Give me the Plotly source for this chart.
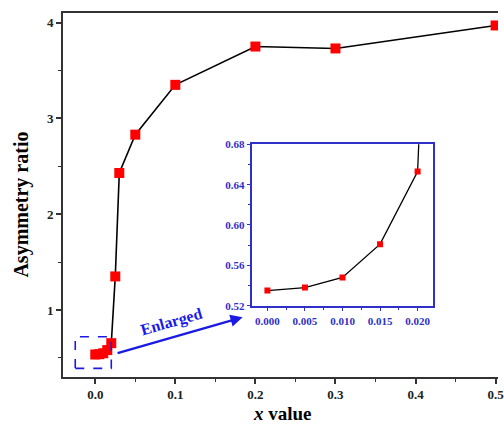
import plotly.graph_objects as go

# ---- data ----
x_vals = [0.0, 0.005, 0.010, 0.015, 0.020, 0.025, 0.03, 0.05, 0.1, 0.2, 0.3, 0.5]
ratio = [0.535, 0.538, 0.548, 0.581, 0.653, 1.35, 2.43, 2.83, 3.35, 3.75, 3.73, 3.97]

main_xticks = [0.0, 0.1, 0.2, 0.3, 0.4, 0.5]
main_yticks = [1, 2, 3, 4]
inset_xticks = [0.000, 0.005, 0.010, 0.015, 0.020]
inset_yticks = [0.52, 0.56, 0.60, 0.64, 0.68]

FONT = "Liberation Serif"
BLUE_AX = "#3030c8"
BLUE_AR = "#1a1ae6"
AXC = "#333333"

fig = go.Figure()
fig.add_trace(go.Scatter(
    x=x_vals, y=ratio, mode="lines+markers",
    line=dict(color="black", width=1.6),
    marker=dict(symbol="square", size=10, color="#ff0000", line=dict(width=0)),
    xaxis="x", yaxis="y", showlegend=False))
fig.add_trace(go.Scatter(
    x=x_vals, y=ratio, mode="lines+markers",
    line=dict(color="black", width=1.3),
    marker=dict(symbol="square", size=6, color="#ff0000", line=dict(width=0)),
    xaxis="x2", yaxis="y2", showlegend=False))

fig.update_layout(
    width=504, height=425,
    margin=dict(l=63, r=0, t=13, b=48),
    paper_bgcolor="white", plot_bgcolor="white",
    font=dict(family=FONT, color="black"),
    xaxis=dict(
        range=[-0.0403, 0.503], tickvals=main_xticks, tickformat=".1f",
        showgrid=False, zeroline=False, showline=True, linecolor=AXC, linewidth=1.6,
        mirror=True, ticks="outside", ticklen=5, tickwidth=1.6, tickcolor=AXC,
        minor=dict(ticks="outside", ticklen=3, tickwidth=1.4, tickcolor=AXC, dtick=0.05, tick0=0),
        tickfont=dict(family=FONT, size=13, color="#222", weight="bold"), ticklabeloverflow="allow",
        domain=[0, 1]),
    yaxis=dict(
        range=[0.3, 4.1], tickvals=main_yticks,
        showgrid=False, zeroline=False, showline=True, linecolor=AXC, linewidth=1.6,
        ticks="outside", ticklen=5, tickwidth=1.6, tickcolor=AXC,
        minor=dict(ticks="outside", ticklen=3, tickwidth=1.4, tickcolor=AXC, dtick=0.5, tick0=0),
        tickfont=dict(family=FONT, size=13, color="#222", weight="bold"),
        domain=[0, 1]),
    xaxis2=dict(
        domain=[0.4354, 0.8497], anchor="y2",
        range=[-0.002, 0.022], tickvals=inset_xticks, tickformat=".3f",
        showgrid=False, zeroline=False, showline=True, linecolor=BLUE_AX, linewidth=1.6,
        mirror=True, ticks="outside", ticklen=4, tickwidth=1.4, tickcolor=BLUE_AX,
        minor=dict(ticks="outside", ticklen=2.5, tickwidth=1.2, tickcolor=BLUE_AX, dtick=0.0025, tick0=0),
        tickfont=dict(family=FONT, size=11, color=BLUE_AX, weight="bold")),
    yaxis2=dict(
        domain=[0.1959, 0.6393], anchor="x2",
        range=[0.52, 0.68], tickvals=inset_yticks, tickformat=".2f",
        showgrid=False, zeroline=False, showline=True, linecolor=BLUE_AX, linewidth=1.6,
        mirror=True, ticks="outside", ticklen=4, tickwidth=1.4, tickcolor=BLUE_AX,
        minor=dict(ticks="outside", ticklen=2.5, tickwidth=1.2, tickcolor=BLUE_AX, dtick=0.02, tick0=0.52),
        tickfont=dict(family=FONT, size=11, color=BLUE_AX, weight="bold")),
)

# dashed zoom box
fig.add_shape(type="rect", xref="x", yref="y", x0=-0.025, x1=0.020, y0=0.39, y1=0.72,
              line=dict(color=BLUE_AR, width=1.6, dash="dash"))

annotations = [
    # arrow
    dict(x=0.184, y=0.924, ax=0.026, ay=0.545, xref="x", yref="y", axref="x", ayref="y",
         text="", showarrow=True, arrowhead=2, arrowsize=1.1, arrowwidth=2.2, arrowcolor=BLUE_AR),
    dict(x=0.0952, y=0.872, xref="x", yref="y", text="<b>Enlarged</b>", showarrow=False,
         textangle=-16, font=dict(family=FONT, size=16, color=BLUE_AR)),
    # axis titles
    dict(x=-0.0975, y=0.4725, xref="paper", yref="paper", text="<b>Asymmetry ratio</b>",
         showarrow=False, textangle=-90, font=dict(family=FONT, size=20, color="black"),
         xanchor="center", yanchor="middle"),
    dict(x=0.5057, y=-0.099, xref="paper", yref="paper", text="<b><i>x</i> value</b>",
         showarrow=False, font=dict(family=FONT, size=19, color="black"),
         xanchor="center", yanchor="middle"),
]
fig.update_layout(annotations=annotations)

fig.write_html("out.html")
